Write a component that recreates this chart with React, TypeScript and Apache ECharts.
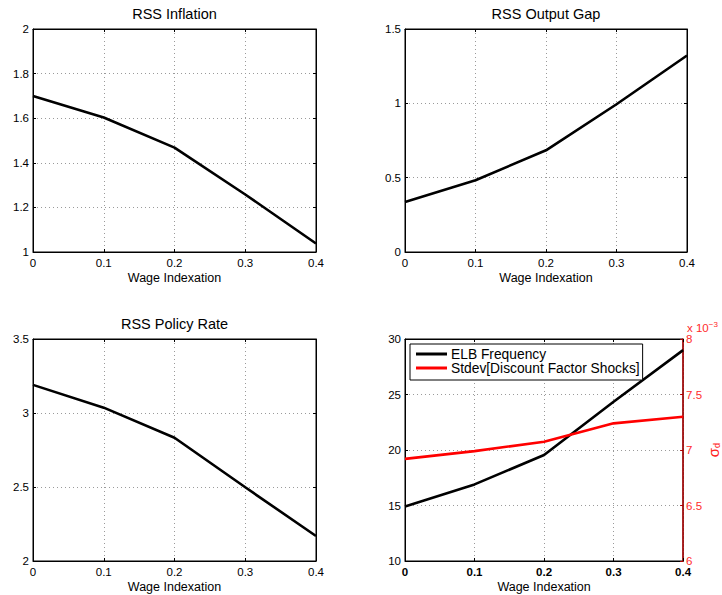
import React, { useEffect, useRef } from "react";
import * as echarts from "echarts";

const wageIndexation = [0, 0.1, 0.2, 0.3, 0.4];
const rssInflation = [1.70, 1.603, 1.468, 1.258, 1.038];
const rssOutputGap = [0.337, 0.483, 0.684, 0.994, 1.322];
const rssPolicyRate = [3.19, 3.036, 2.833, 2.498, 2.169];
const elbFrequency = [14.9, 16.9, 19.55, 24.35, 29.0];
const stdevDiscountShocks = [6.92, 6.99, 7.075, 7.24, 7.30]; // x 10^-3

const titles = ["RSS Inflation", "RSS Output Gap", "RSS Policy Rate"];
const xAxisTitle = "Wage Indexation";
const legendNames = ["ELB Frequency", "Stdev[Discount Factor Shocks]"];

const FONT = "Liberation Sans, Arial, Helvetica, sans-serif";

const grids = [
  { left: 33, top: 29, width: 283, height: 223 },
  { left: 405, top: 29, width: 282, height: 223 },
  { left: 33, top: 339, width: 283, height: 222 },
  { left: 405, top: 339, width: 282, height: 222 },
];

const yRanges = [
  { min: 1, max: 2, interval: 0.2 },
  { min: 0, max: 1.5, interval: 0.5 },
  { min: 2, max: 3.5, interval: 0.5 },
  { min: 10, max: 30, interval: 5 },
];

const pairs = (ys: number[]) => wageIndexation.map((x, i) => [x, ys[i]]);

const fmtX = (v: number) => (Math.abs(v) < 1e-9 ? "0" : (Math.round(v * 10) / 10).toFixed(1));
const fmtY = (v: number) => String(Math.round(v * 1000) / 1000);

export default function App() {
  const ref = useRef<HTMLDivElement>(null);
  useEffect(() => {
    if (!ref.current) return;
    const chart = echarts.init(ref.current, undefined, { renderer: "svg" });

    const gridLine = { show: true, lineStyle: { color: "#9a9a9a", type: [1, 3] as any, width: 1 } };
    const blackLine = { show: true, onZero: false, lineStyle: { color: "#000", width: 1 } };
    const tick = { show: true, inside: true, length: 3, lineStyle: { color: "#000" } };

    const xAxes: any[] = [];
    grids.forEach((_, i) => {
      xAxes.push({
        type: "value",
        gridIndex: i,
        position: "bottom",
        min: 0,
        max: 0.4,
        interval: 0.1,
        name: xAxisTitle,
        nameLocation: "middle",
        nameGap: 19,
        nameTextStyle: { fontFamily: FONT, fontSize: 12.5, color: "#000" },
        axisLine: blackLine,
        axisTick: tick,
        axisLabel: {
          show: true,
          margin: 5,
          fontFamily: FONT,
          fontSize: 11.5,
          color: "#000",
          fontWeight: i === 3 ? "bold" : "normal",
          formatter: fmtX,
        },
        splitLine: gridLine,
      });
    });
    grids.forEach((_, i) => {
      xAxes.push({
        type: "value",
        gridIndex: i,
        position: "top",
        min: 0,
        max: 0.4,
        interval: 0.1,
        axisLine: blackLine,
        axisTick: tick,
        axisLabel: { show: false },
        splitLine: { show: false },
      });
    });

    const yAxes: any[] = [];
    grids.forEach((_, i) => {
      yAxes.push({
        type: "value",
        gridIndex: i,
        position: "left",
        min: yRanges[i].min,
        max: yRanges[i].max,
        interval: yRanges[i].interval,
        axisLine: blackLine,
        axisTick: tick,
        axisLabel: { show: true, margin: 4, fontFamily: FONT, fontSize: 11.5, color: "#000", formatter: fmtY },
        splitLine: gridLine,
      });
    });
    [0, 1, 2].forEach((i) => {
      yAxes.push({
        type: "value",
        gridIndex: i,
        position: "right",
        min: yRanges[i].min,
        max: yRanges[i].max,
        interval: yRanges[i].interval,
        axisLine: blackLine,
        axisTick: tick,
        axisLabel: { show: false },
        splitLine: { show: false },
      });
    });
    yAxes.push({
      type: "value",
      gridIndex: 3,
      position: "right",
      min: 6,
      max: 8,
      interval: 0.5,
      name: "{s|σ}{d|d}",
      nameLocation: "middle",
      nameGap: 19,
      nameRotate: 90,
      nameTextStyle: {
        color: "#ff2020",
        fontFamily: FONT,
        fontSize: 13,
        rich: {
          s: { fontSize: 15, color: "#ff2020", fontFamily: FONT },
          d: { fontSize: 9, color: "#ff2020", fontFamily: FONT, padding: [6, 0, 0, 0] },
        },
      },
      axisLine: { show: true, onZero: false, lineStyle: { color: "#b00000", width: 1.5 } },
      axisTick: { show: true, inside: true, length: 3, lineStyle: { color: "#b00000" } },
      axisLabel: { show: true, margin: 3, fontFamily: FONT, fontSize: 11.5, color: "#ff2a2a", formatter: fmtY },
      splitLine: { show: false },
    });

    const lineSeries = (name: string, data: number[], gi: number, yi: number, color: string) => ({
      type: "line",
      name,
      xAxisIndex: gi,
      yAxisIndex: yi,
      data: pairs(data),
      symbol: "none",
      lineStyle: { color, width: 2.6 },
      itemStyle: { color },
      z: 5,
    });

    const option: any = {
      animation: false,
      backgroundColor: "#fff",
      title: titles.map((t, i) => ({
        text: t,
        left: grids[i].left + grids[i].width / 2,
        top: grids[i].top - 23,
        textAlign: "center",
        padding: 0,
        textStyle: { fontFamily: FONT, fontSize: 14.5, fontWeight: "normal", color: "#000" },
      })),
      grid: grids.map((g) => ({ ...g, show: true, borderColor: "#000", borderWidth: 1, backgroundColor: "#fff" })),
      xAxis: xAxes,
      yAxis: yAxes,
      legend: {
        show: true,
        data: legendNames,
        orient: "vertical",
        left: 410,
        top: 344,
        padding: [3, 3, 5, 6],
        itemGap: 0,
        icon: "rect",
        itemWidth: 31,
        itemHeight: 3,
        backgroundColor: "#fff",
        borderColor: "#000",
        borderWidth: 1,
        borderRadius: 0,
        textStyle: { fontFamily: FONT, fontSize: 13.8, color: "#000", lineHeight: 14, padding: [0, 0, 0, -1] },
        z: 10,
      },
      graphic: [
        {
          type: "text",
          left: 687,
          top: 320,
          style: {
            text: "{a|x 10}{b|−3}",
            rich: {
              a: { fontSize: 11.5, fill: "#ff2a2a", fontFamily: FONT },
              b: { fontSize: 8, fill: "#ff2a2a", fontFamily: FONT, padding: [0, 0, 7, 0] },
            },
          },
        },
      ],
      series: [
        lineSeries(titles[0], rssInflation, 0, 0, "#000"),
        lineSeries(titles[1], rssOutputGap, 1, 1, "#000"),
        lineSeries(titles[2], rssPolicyRate, 2, 2, "#000"),
        lineSeries(legendNames[0], elbFrequency, 3, 3, "#000"),
        lineSeries(legendNames[1], stdevDiscountShocks, 3, 7, "#ff0000"),
      ],
    };
    chart.setOption(option);
    return () => chart.dispose();
  }, []);
  return (
    <div
      ref={ref}
      style={{ position: "fixed", left: 0, top: 0, width: 722, height: 595, background: "#fff" }}
    />
  );
}
